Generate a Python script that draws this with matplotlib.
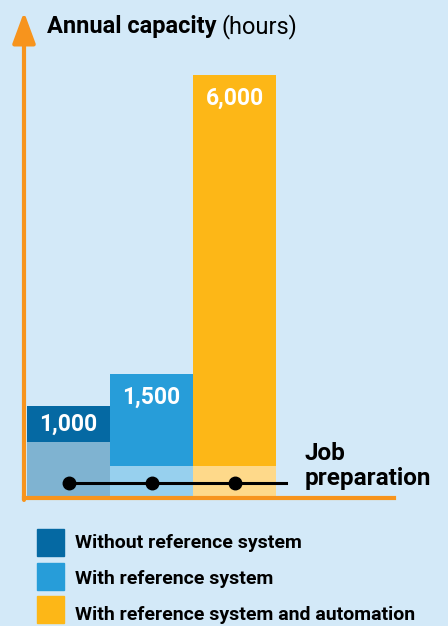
import matplotlib
matplotlib.use("Agg")
import matplotlib.pyplot as plt
from matplotlib.patches import Rectangle

# chart data (bar heights are the drawn heights, the picture is not to scale)
categories = ["Without reference system", "With reference system",
              "With reference system and automation"]
capacity = [1000, 1500, 6000]
bar_height = [92, 124, 423]
prep_height = [56, 32, 32]
prep_label = "Job\npreparation"

dark = ["#0569a3", "#279dd9", "#fdb717"]
light = ["#7fb3d1", "#97d0ee", "#fed98a"]
bg = "#d3e9f8"
orange = "#f7941d"

plt.rcParams['font.family'] = ['Roboto', 'DejaVu Sans']

W, H = 448, 626
fig = plt.figure(figsize=(W/100, H/100), dpi=100, facecolor=bg)
ax = fig.add_axes([24/W, (H-498)/H, (394-24)/W, (498-12)/H])
ax.set_facecolor(bg)
ax.set_xlim(-3/83, (394-27)/83)
ax.set_ylim(0, 486)

x = list(range(len(capacity)))
upper = [h - p for h, p in zip(bar_height, prep_height)]
ax.bar(x, prep_height, width=1, align='edge', color=light, zorder=1)
ax.bar(x, upper, bottom=prep_height, width=1, align='edge', color=dark, zorder=1)

# value labels
for i, (h, p, v) in enumerate(zip(bar_height, prep_height, capacity)):
    y = h - min(23, (h - p) / 2)
    ax.text(i + 0.5, y, f"{v:,}", color="white", fontsize=16.5,
            fontweight="bold", ha="center", va="center")

# job preparation line
cx = [i + 0.5 for i in x]
ax.plot([cx[0], 3.12], [15, 15], color="black", lw=2.2, zorder=3)
ax.plot(cx, [15] * len(cx), 'o', color="black", ms=9, zorder=4)
ax.text(3.34, 32, prep_label, fontsize=17.5, fontweight="bold",
        ha="left", va="center", linespacing=1.1)

# axes
for s in ["top", "right", "left"]:
    ax.spines[s].set_visible(False)
ax.spines["bottom"].set_color(orange)
ax.spines["bottom"].set_linewidth(3)
ax.set_xticks([])
ax.set_yticks([])
ax.annotate("", xy=(0, 1), xytext=(0, -0.004), xycoords="axes fraction",
            textcoords="axes fraction",
            arrowprops=dict(arrowstyle="-|>,head_length=1.9,head_width=0.7",
                            color=orange, lw=3, shrinkA=0, shrinkB=0),
            annotation_clip=False)

# title
t1 = fig.text(47/W, 1 - 27/H, "Annual capacity", fontsize=17,
              fontweight="bold", va="center", ha="left")
fig.canvas.draw()
bb = t1.get_window_extent(fig.canvas.get_renderer())
fig.text(bb.x1 / fig.bbox.width + 5/W, 1 - 27/H, "(hours)", fontsize=17,
         va="center", ha="left")

# legend (drawn by hand to match the square size and spacing)
for i, (c, lab) in enumerate(zip(dark, categories)):
    top = 529 + i * 33.5
    fig.patches.append(Rectangle((37/W, 1 - (top + 27)/H), 27/W, 27/H,
                                 transform=fig.transFigure, color=c))
    fig.text(75/W, 1 - (543 + i * 36)/H, lab, fontsize=14, fontweight="bold",
             va="center", ha="left")

fig.savefig("out.png", dpi=100, facecolor=bg)
